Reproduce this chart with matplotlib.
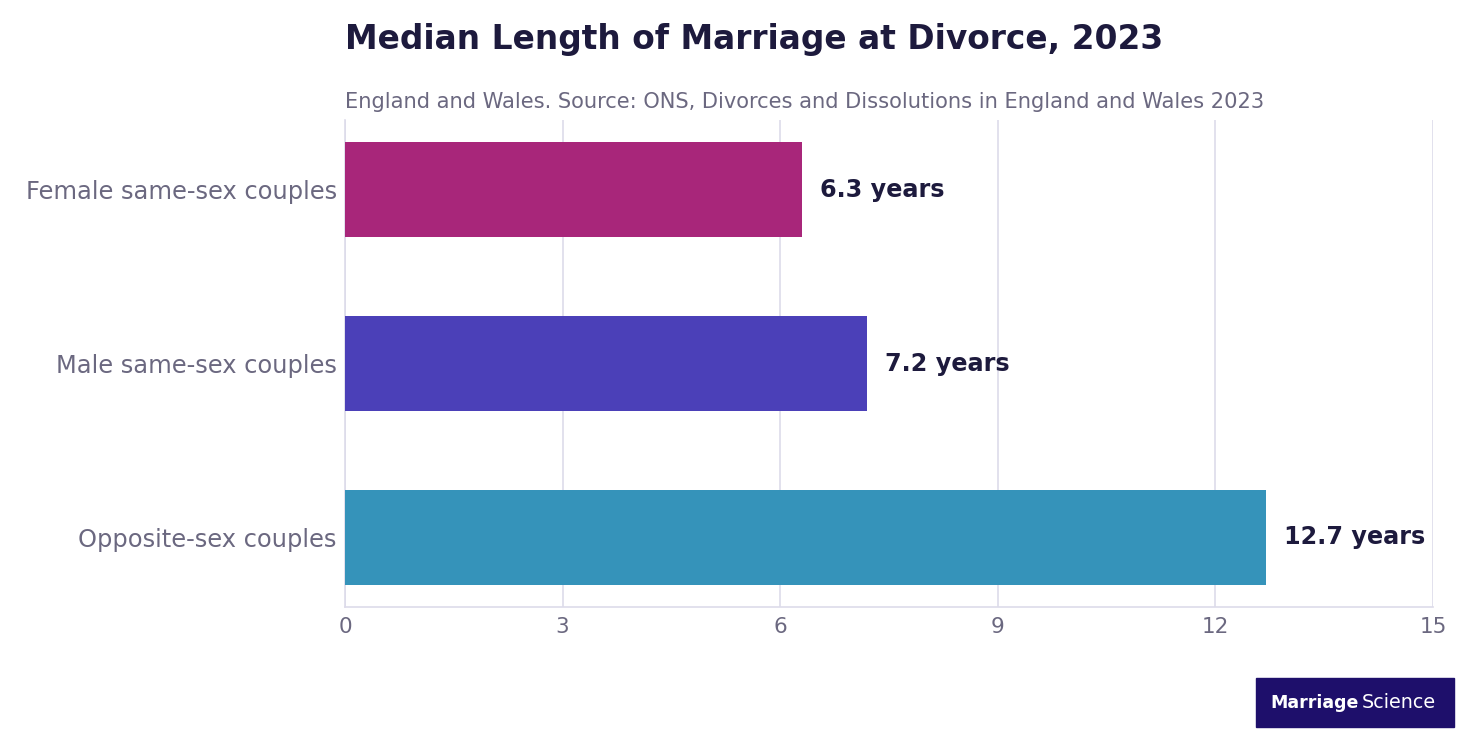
import matplotlib
matplotlib.use("Agg")
import matplotlib.pyplot as plt
from matplotlib.patches import Rectangle

plt.rcParams["font.family"] = ["DejaVu Sans"]

categories = ["Female same-sex couples", "Male same-sex couples", "Opposite-sex couples"]
values = [6.3, 7.2, 12.7]
colors = ["#A8267A", "#4B40B8", "#3593BA"]
xticks = [0, 3, 6, 9, 12, 15]

title = "Median Length of Marriage at Divorce, 2023"
subtitle = "England and Wales. Source: ONS, Divorces and Dissolutions in England and Wales 2023"

W, H = 1472, 736
fig = plt.figure(figsize=(W / 100, H / 100), dpi=100)
ax = fig.add_axes([345 / W, 1 - 607 / H, (1433 - 345) / W, (607 - 120) / H])

ypos = list(range(len(categories)))
ax.barh(ypos, values, height=0.55, color=colors, zorder=3)
ax.set_ylim(2.4, -0.4)
ax.set_xlim(0, 15)
ax.set_xticks(xticks)
ax.set_xticklabels([str(t) for t in xticks])
ax.set_yticks(ypos)
ax.set_yticklabels(categories)

gray = "#6B6880"
dark = "#1D1A3D"
grid = "#DDDBEA"
ax.tick_params(axis="x", length=0, labelsize=15.5, colors=gray, pad=7)
ax.tick_params(axis="y", length=0, labelsize=17.4, colors=gray, pad=6)
ax.grid(axis="x", color=grid, linewidth=1.2, zorder=0)
for s in ["top", "right"]:
    ax.spines[s].set_visible(False)
ax.spines["left"].set_color(grid)
ax.spines["bottom"].set_color(grid)
ax.spines["left"].set_linewidth(1.2)
ax.spines["bottom"].set_linewidth(1.2)

for y, v in zip(ypos, values):
    ax.annotate(f"{v} years", xy=(v, y), xytext=(18, 0), textcoords="offset pixels",
                va="center", ha="left", fontsize=17.2, fontweight="bold", color=dark)

fig.text(345 / W, 1 - 39 / H, title, fontsize=23.7, fontweight="bold", color=dark,
         ha="left", va="center")
fig.text(345 / W, 1 - 102 / H, subtitle, fontsize=15.15, color=gray, ha="left", va="center")

# logo
fig.patches.append(Rectangle((1256 / W, 1 - 727 / H), (1454 - 1256) / W, (727 - 678) / H,
                             transform=fig.transFigure, color="#1E0F6B", zorder=5))
fig.text(1359 / W, 1 - 703 / H, "Marriage", fontsize=12.5, fontweight="bold", color="white",
         ha="right", va="center", zorder=6)
fig.text(1362 / W, 1 - 703 / H, "Science", fontsize=13.8, color="white",
         ha="left", va="center", zorder=6)

fig.savefig("out.png", dpi=100)
